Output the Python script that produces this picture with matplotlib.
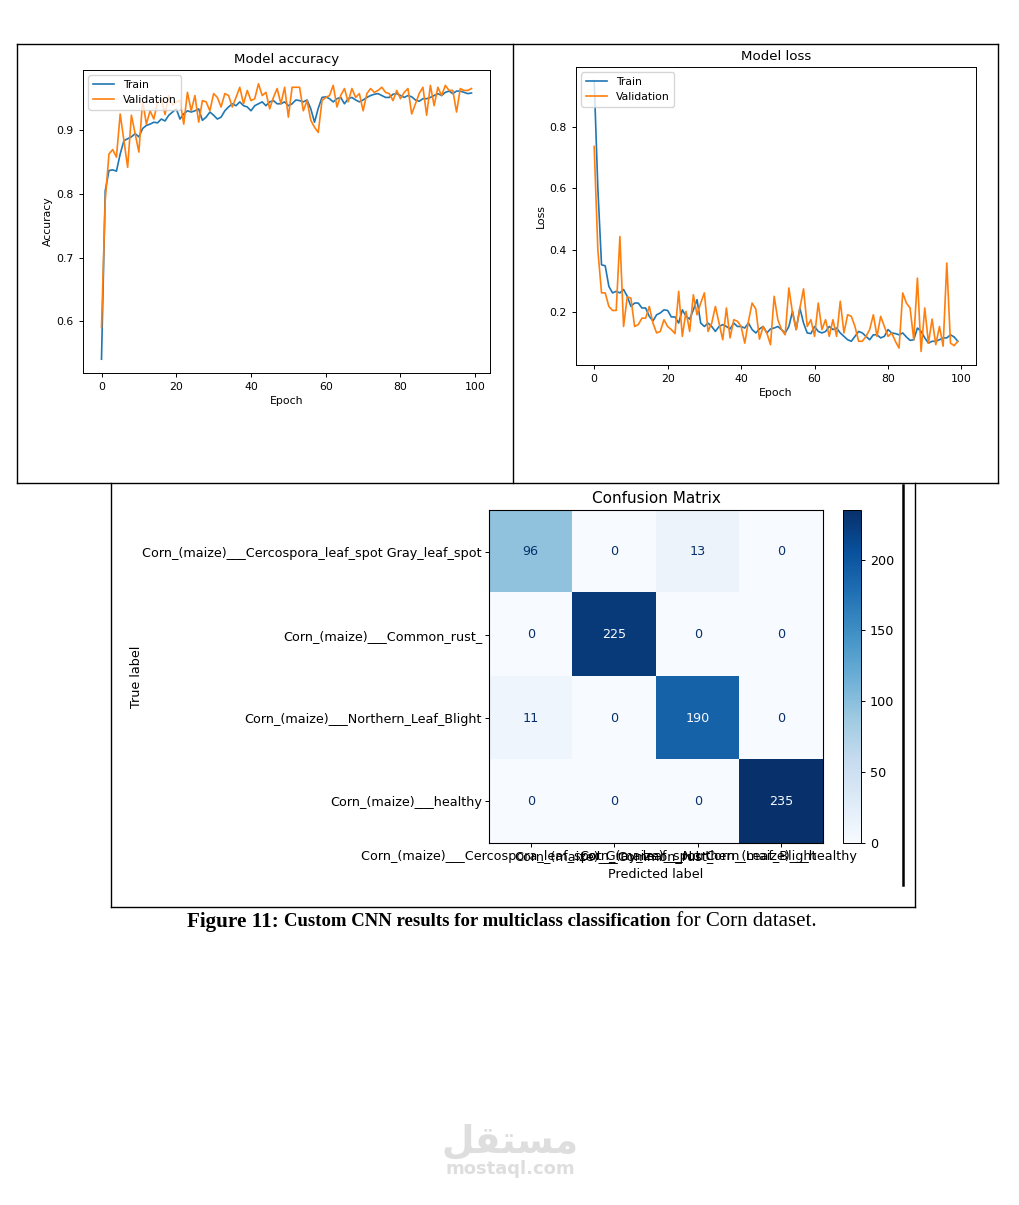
import matplotlib
matplotlib.use("Agg")
import matplotlib.pyplot as plt
import numpy as np
from matplotlib.lines import Line2D

# ---- data ----
train_acc = [0.54, 0.805, 0.837, 0.838, 0.836, 0.863, 0.884, 0.887, 0.89, 0.895,
             0.89, 0.903, 0.908, 0.91, 0.913, 0.912, 0.918, 0.915, 0.924, 0.929,
             0.934, 0.918, 0.926, 0.931, 0.929, 0.931, 0.934, 0.916, 0.921, 0.929,
             0.924, 0.918, 0.921, 0.931, 0.937, 0.942, 0.939, 0.945, 0.939, 0.937,
             0.931, 0.939, 0.942, 0.945, 0.939, 0.945, 0.947, 0.942, 0.942, 0.945,
             0.939, 0.942, 0.948, 0.947, 0.945, 0.948, 0.934, 0.913, 0.935, 0.952,
             0.953, 0.95, 0.945, 0.95, 0.952, 0.942, 0.95, 0.952, 0.948, 0.945,
             0.948, 0.952, 0.955, 0.957, 0.958, 0.955, 0.952, 0.952, 0.957, 0.958,
             0.955, 0.952, 0.955, 0.953, 0.948, 0.946, 0.95, 0.95, 0.952, 0.955,
             0.958, 0.955, 0.96, 0.962, 0.958, 0.962, 0.962, 0.96, 0.958, 0.959]
val_acc = [0.59, 0.79, 0.863, 0.87, 0.858, 0.926, 0.884, 0.842, 0.924, 0.895,
           0.866, 0.947, 0.91, 0.931, 0.918, 0.945, 0.95, 0.925, 0.955, 0.94,
           0.945, 0.947, 0.91, 0.96, 0.931, 0.955, 0.913, 0.947, 0.945, 0.931,
           0.958, 0.952, 0.937, 0.958, 0.955, 0.937, 0.952, 0.968, 0.942, 0.963,
           0.947, 0.95, 0.9735, 0.955, 0.96, 0.934, 0.952, 0.966, 0.942, 0.968,
           0.921, 0.968, 0.968, 0.968, 0.931, 0.947, 0.916, 0.905, 0.897, 0.947,
           0.952, 0.955, 0.971, 0.937, 0.955, 0.966, 0.945, 0.966, 0.952, 0.958,
           0.931, 0.958, 0.966, 0.96, 0.963, 0.968, 0.96, 0.958, 0.947, 0.963,
           0.95, 0.96, 0.966, 0.926, 0.942, 0.958, 0.968, 0.924, 0.971, 0.939,
           0.968, 0.955, 0.971, 0.963, 0.963, 0.929, 0.966, 0.963, 0.963, 0.966]
train_loss = [0.95, 0.60, 0.352, 0.349, 0.282, 0.261, 0.266, 0.261, 0.272, 0.25,
              0.217, 0.228, 0.228, 0.212, 0.212, 0.185, 0.17, 0.19, 0.196, 0.206,
              0.204, 0.183, 0.183, 0.163, 0.206, 0.185, 0.176, 0.206, 0.239, 0.163,
              0.152, 0.163, 0.152, 0.136, 0.152, 0.158, 0.152, 0.144, 0.163, 0.152,
              0.152, 0.147, 0.163, 0.142, 0.131, 0.144, 0.152, 0.131, 0.144, 0.147,
              0.152, 0.142, 0.131, 0.152, 0.201, 0.142, 0.212, 0.163, 0.131, 0.129,
              0.152, 0.136, 0.131, 0.136, 0.152, 0.142, 0.147, 0.131, 0.12, 0.109,
              0.104, 0.12, 0.136, 0.131, 0.12, 0.109, 0.125, 0.125, 0.115, 0.12,
              0.142, 0.131, 0.129, 0.125, 0.131, 0.118, 0.107, 0.109, 0.147, 0.136,
              0.115, 0.098, 0.104, 0.104, 0.109, 0.115, 0.115, 0.125, 0.118, 0.104]
val_loss = [0.736, 0.40, 0.261, 0.261, 0.217, 0.204, 0.204, 0.444, 0.152, 0.248,
            0.244, 0.152, 0.158, 0.179, 0.179, 0.217, 0.163, 0.131, 0.136, 0.174,
            0.152, 0.142, 0.129, 0.266, 0.12, 0.201, 0.136, 0.255, 0.19, 0.228,
            0.261, 0.136, 0.163, 0.217, 0.163, 0.109, 0.212, 0.115, 0.174, 0.169,
            0.152, 0.098, 0.169, 0.228, 0.209, 0.111, 0.152, 0.131, 0.093, 0.25,
            0.174, 0.142, 0.125, 0.277, 0.196, 0.142, 0.212, 0.274, 0.152, 0.174,
            0.12, 0.228, 0.142, 0.174, 0.12, 0.174, 0.12, 0.234, 0.131, 0.19,
            0.185, 0.152, 0.104, 0.104, 0.12, 0.142, 0.19, 0.12, 0.185, 0.152,
            0.12, 0.131, 0.104, 0.082, 0.261, 0.228, 0.212, 0.109, 0.309, 0.071,
            0.212, 0.098, 0.176, 0.093, 0.152, 0.088, 0.358, 0.098, 0.09, 0.104]

class_names = ["Corn_(maize)___Cercospora_leaf_spot Gray_leaf_spot",
               "Corn_(maize)___Common_rust_",
               "Corn_(maize)___Northern_Leaf_Blight",
               "Corn_(maize)___healthy"]
cm = [[96, 0, 13, 0],
      [0, 225, 0, 0],
      [11, 0, 190, 0],
      [0, 0, 0, 235]]

caption_parts = ["Figure 11: ", "Custom CNN results for multiclass classification",
                 " for Corn dataset."]

W, H = 1020, 1205
fig = plt.figure(figsize=(W / 100, H / 100), dpi=100)


def px_rect(x0, y0, x1, y1):
    return [x0 / W, 1 - y1 / H, (x1 - x0) / W, (y1 - y0) / H]


def fig_line(xs, ys, lw=1.0, color="black"):
    fig.add_artist(Line2D([x / W for x in xs], [1 - y / H for y in ys],
                          transform=fig.transFigure, color=color, lw=lw))


s = 7.8  # base text size for the shrunk training plots
epochs = np.arange(len(train_acc))

# ---- accuracy ----
ax1 = fig.add_axes(px_rect(83, 70, 490, 373))
ax1.plot(epochs, train_acc, label="Train", lw=1.2)
ax1.plot(epochs, val_acc, label="Validation", lw=1.2)
ax1.set_title("Model accuracy", fontsize=9.6, pad=5)
ax1.set_xlabel("Epoch", fontsize=s, labelpad=3)
ax1.set_ylabel("Accuracy", fontsize=s, labelpad=3)
ax1.set_yticks([0.6, 0.7, 0.8, 0.9])
ax1.tick_params(labelsize=s, length=3, width=0.7)
ax1.legend(loc="upper left", fontsize=s)
for sp in ax1.spines.values():
    sp.set_linewidth(0.7)

# ---- loss ----
ax2 = fig.add_axes(px_rect(576, 67, 976, 365))
ax2.plot(epochs, train_loss, label="Train", lw=1.2)
ax2.plot(epochs, val_loss, label="Validation", lw=1.2)
ax2.set_title("Model loss", fontsize=9.6, pad=5)
ax2.set_xlabel("Epoch", fontsize=s, labelpad=3)
ax2.set_ylabel("Loss", fontsize=s, labelpad=3)
ax2.set_yticks([0.2, 0.4, 0.6, 0.8])
ax2.tick_params(labelsize=s, length=3, width=0.7)
ax2.legend(loc="upper left", fontsize=s)
for sp in ax2.spines.values():
    sp.set_linewidth(0.7)

# ---- confusion matrix ----
cmf = 9.2
cm_arr = np.array(cm)
ax3 = fig.add_axes(px_rect(489, 510, 823, 843))
im = ax3.imshow(cm_arr, cmap="Blues", vmin=0, vmax=cm_arr.max(), aspect="auto")
cmap = im.cmap
thresh = (cm_arr.max() + cm_arr.min()) / 2
for i in range(cm_arr.shape[0]):
    for j in range(cm_arr.shape[1]):
        c = cmap(1.0) if cm_arr[i, j] < thresh else cmap(0.0)
        ax3.text(j, i, str(cm_arr[i, j]), ha="center", va="center", color=c, fontsize=cmf)
n = len(class_names)
ax3.set_xticks(range(n))
ax3.set_xticklabels(class_names, fontsize=cmf)
ax3.set_yticks(range(n))
ax3.set_yticklabels(class_names, fontsize=cmf)
ax3.set_xlabel("Predicted label", fontsize=cmf, labelpad=4)
ax3.set_ylabel("True label", fontsize=cmf)
ax3.yaxis.set_label_coords(-1.035, 0.5)
ax3.set_title("Confusion Matrix", fontsize=11, pad=5)
ax3.tick_params(length=3, width=0.7, pad=2)

cax = fig.add_axes(px_rect(843, 510, 861, 843))
cb = fig.colorbar(im, cax=cax)
cb.set_ticks([0, 50, 100, 150, 200])
cb.ax.tick_params(labelsize=cmf, length=3, width=0.7)
cb.outline.set_linewidth(0.7)

# ---- frames around the panels ----
fig_line([17, 998], [44, 44])
fig_line([17, 998], [483, 483])
fig_line([17, 17], [44, 483])
fig_line([998, 998], [44, 483])
fig_line([513, 513], [44, 483])
fig_line([111, 111], [483, 907])
fig_line([915, 915], [483, 907])
fig_line([111, 915], [907, 907])
fig_line([903, 903], [485, 885], lw=1.8)

# ---- caption, three fonts in one line ----
serif = ["Liberation Serif", "DejaVu Serif"]
fig.canvas.draw()
rend = fig.canvas.get_renderer()
styles = [dict(fontsize=15.2, fontweight="bold"),
          dict(fontsize=13.5, fontweight="bold"),
          dict(fontsize=15, fontweight="normal")]
texts = [fig.text(0, 1 - 922 / H, t, family=serif, va="center", ha="left", **st)
         for t, st in zip(caption_parts, styles)]
widths = [t.get_window_extent(rend).width for t in texts]
x = 502 - sum(widths) / 2
for t, w in zip(texts, widths):
    t.set_x(x / W)
    x += w

# ---- watermark ----
fig.text(510 / W, 1 - 1142 / H, "\ufede\ufed8\ufe98\ufeb4\ufee3", ha="center", va="center",
         fontsize=27, fontweight="bold", color="#dedede", family=["DejaVu Sans"])
fig.text(510 / W, 1 - 1169 / H, "mostaql.com", ha="center", va="center",
         fontsize=13, fontweight="bold", color="#dedede", family=["DejaVu Sans"])

fig.savefig("out.png", dpi=100)
